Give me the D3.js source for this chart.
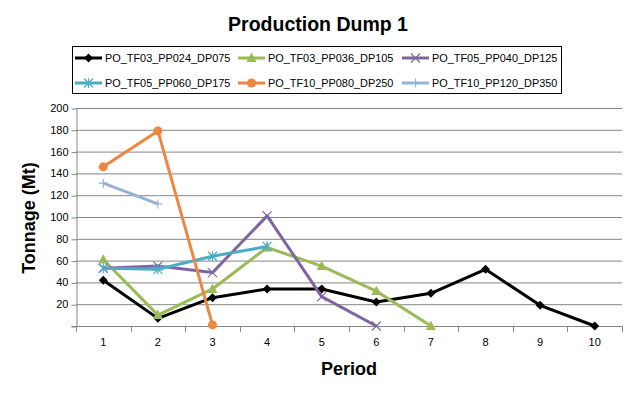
<!DOCTYPE html>
<html><head><meta charset="utf-8">
<script src="https://cdn.jsdelivr.net/npm/d3@7"></script>
<style>body{margin:0;background:#fff;} svg{display:block;font-family:"Liberation Sans",Arial,sans-serif;}</style>
</head><body>
<svg id="c" width="633" height="393"></svg>
<script>
const periods = [1,2,3,4,5,6,7,8,9,10];
const yTicks = [0,20,40,60,80,100,120,140,160,180,200];
const seriesNames = ["PO_TF03_PP024_DP075","PO_TF03_PP036_DP105","PO_TF05_PP040_DP125","PO_TF05_PP060_DP175","PO_TF10_PP080_DP250","PO_TF10_PP120_DP350"];
const s1 = [42,7,26,34,34,22,30,52,19,0];
const s2 = [61,10,34,72,55,32,0];
const s3 = [53,55,49,101,27,0];
const s4 = [53,52,64,73];
const s5 = [146,179,1];
const s6 = [131,112];
const seriesValues = [s1,s2,s3,s4,s5,s6];
const colors = ["#000000","#9BBB59","#8064A2","#4BACC6","#EC8640","#95B3D7"];
const markers = ["diamond","triangle","x","star","circle","plus"];

const svg = d3.select("#c");
const L=76, R=622, T=108, B=326;
const x = d3.scaleBand().domain(periods).range([L,R]);
const y = d3.scaleLinear().domain([0,200]).range([B,T]);

// gridlines
svg.append("g").selectAll("line").data(yTicks.filter(d=>d>0)).join("line")
  .attr("x1",L).attr("x2",R).attr("y1",d=>y(d)+0.5).attr("y2",d=>y(d)+0.5)
  .attr("stroke","#868686").attr("stroke-width",1);

// y axis
const ya = svg.append("g").attr("transform",`translate(${L+0.5},0)`)
  .call(d3.axisLeft(y).tickValues(yTicks).tickSize(5).tickFormat(d=>d===0?"":d));
ya.select(".domain").attr("stroke","#868686").attr("d",`M-5,${y(0)+0.5}H0.5V${T}`);
ya.selectAll(".tick line").attr("stroke","#868686").attr("transform","translate(0,0.5)");
ya.selectAll("text").attr("font-size","11px").attr("fill","#000").attr("x",-8).attr("font-family","Liberation Sans, Arial, sans-serif");

// x axis
const xa = svg.append("g").attr("transform",`translate(0,${B+0.5})`)
  .call(d3.axisBottom(x).tickSize(0).tickPadding(12));
xa.select(".domain").attr("stroke","#868686").attr("d",`M${L},0H${R}`);
xa.selectAll("text").attr("font-size","11px").attr("fill","#000").attr("font-family","Liberation Sans, Arial, sans-serif");
// boundary ticks
const bounds = periods.map(p=>x(p)).concat([R]);
svg.append("g").selectAll("line").data(bounds).join("line")
  .attr("x1",d=>Math.round(d)+0.5).attr("x2",d=>Math.round(d)+0.5).attr("y1",B).attr("y2",B+6)
  .attr("stroke","#868686");

const cx = p => x(p)+x.bandwidth()/2;

function drawMarker(g, type, color, px, py, size){
  const s=size||4.5;
  if(type==="diamond"){
    g.append("path").attr("d",`M${px},${py-s}L${px+s},${py}L${px},${py+s}L${px-s},${py}Z`).attr("fill",color);
  } else if(type==="triangle"){
    g.append("path").attr("d",`M${px},${py-s-1}L${px+s+0.5},${py+s-0.5}L${px-s-0.5},${py+s-0.5}Z`).attr("fill",color);
  } else if(type==="circle"){
    g.append("circle").attr("cx",px).attr("cy",py).attr("r",s).attr("fill",color);
  } else if(type==="x"){
    g.append("path").attr("d",`M${px-s},${py-s}L${px+s},${py+s}M${px+s},${py-s}L${px-s},${py+s}`).attr("stroke",color).attr("stroke-width",1.2);
  } else if(type==="star"){
    g.append("path").attr("d",`M${px-s},${py-s}L${px+s},${py+s}M${px+s},${py-s}L${px-s},${py+s}M${px},${py-s-0.5}L${px},${py+s+0.5}`).attr("stroke",color).attr("stroke-width",1.2);
  } else if(type==="plus"){
    g.append("path").attr("d",`M${px-s},${py}L${px+s},${py}M${px},${py-s}L${px},${py+s}`).attr("stroke",color).attr("stroke-width",1.2);
  }
}

const line = d3.line().x((d,i)=>cx(periods[i])).y(d=>y(d));
seriesValues.forEach((vals,k)=>{
  const g = svg.append("g");
  g.append("path").datum(vals).attr("d",line).attr("fill","none")
    .attr("stroke",colors[k]).attr("stroke-width",3).attr("stroke-linejoin","round");
  vals.forEach((v,i)=>drawMarker(g, markers[k], colors[k], cx(periods[i]), y(v)));
});

// title
svg.append("text").attr("x",318).attr("y",31).attr("text-anchor","middle")
  .attr("font-size","19.5px").attr("font-weight","bold").text("Production Dump 1");

// axis titles
svg.append("text").attr("transform","translate(35,218) rotate(-90)").attr("text-anchor","middle")
  .attr("font-size","18px").attr("font-weight","bold").text("Tonnage (Mt)");
svg.append("text").attr("x",349).attr("y",375).attr("text-anchor","middle")
  .attr("font-size","18px").attr("font-weight","bold").text("Period");

// legend
svg.append("rect").attr("x",72.5).attr("y",46.5).attr("width",489).attr("height",47)
  .attr("fill","#fff").attr("stroke","#000").attr("stroke-width",1);
const legPos = [[75,58],[238,58],[402,58],[75,83],[238,83],[402,83]];
seriesNames.forEach((n,k)=>{
  const g = svg.append("g");
  const [lx,ly] = legPos[k];
  g.append("line").attr("x1",lx).attr("x2",lx+27).attr("y1",ly).attr("y2",ly)
    .attr("stroke",colors[k]).attr("stroke-width",3);
  drawMarker(g, markers[k], colors[k], lx+13.5, ly);
  g.append("text").attr("x",lx+30).attr("y",ly+4).attr("font-size","10.9px").text(n);
});
</script>
</body></html>
